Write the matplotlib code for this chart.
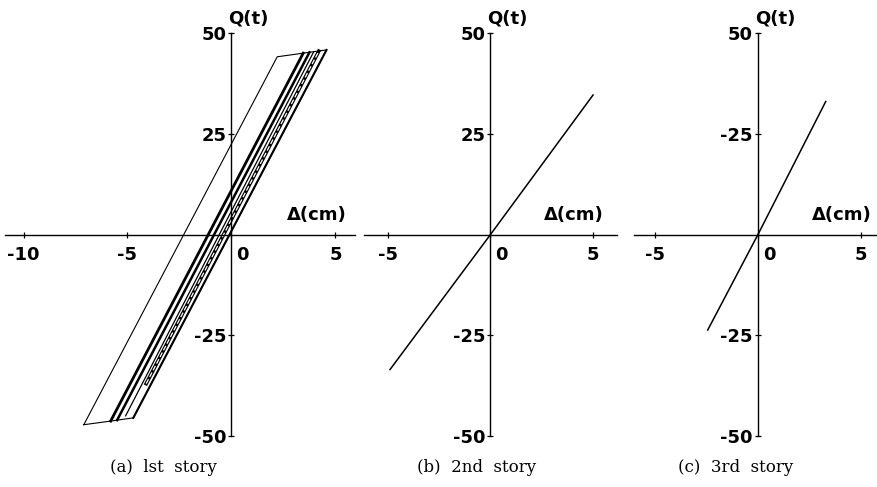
import matplotlib
matplotlib.use("Agg")
import matplotlib.pyplot as plt

plt.rcParams['font.family'] = ['DejaVu Sans']

# ------------------------------------
# data (delta in cm, Q in t)
# ------------------------------------
# 1st story hysteresis
outer_d = [-7.1, 2.2, 4.57, -4.72, -5.81, -7.1]
outer_q = [-47.2, 44.1, 45.8, -45.5, -46.3, -47.2]
right_d = [4.57, -4.72]
right_q = [45.8, -45.5]
thick1_d = [-5.81, 3.45]
thick1_q = [-46.3, 45.0]
thick2_d = [-5.5, 3.75]
thick2_q = [-46.07, 45.2]
thin_d = [-5.09, 3.95]
thin_q = [-45.0, 45.3]
inner_d = [-4.1, 4.2]
inner_q = [-37.0, 45.5]

# 2nd story
story2_d = [-4.9, 0.0, 5.0]
story2_q = [-33.5, 0.0, 34.6]

# 3rd story
story3_d = [-2.44, 0.0, 3.29]
story3_q = [-23.7, 0.0, 33.0]

xticks_a = [-10, -5, 0, 5]
xlabels_a = ["-10", "-5", "0", "5"]
xticks_bc = [-5, 0, 5]
xlabels_bc = ["-5", "0", "5"]
yticks = [50, 25, -25, -50]
ylabels_ab = ["50", "25", "-25", "-50"]
ylabels_c = ["50", "-25", "-25", "-50"]

captions = ["(a)  lst  story", "(b)  2nd  story", "(c)  3rd  story"]

W, H = 878, 487
fig = plt.figure(figsize=(W / 100, H / 100), dpi=100)


def make_axes(left, right, xlim, xticks, xlabels, ylabels):
    ax = fig.add_axes([left / W, 51 / H, (right - left) / W, 403 / H])
    ax.patch.set_visible(False)
    ax.set_xlim(xlim)
    ax.set_ylim(-50, 50)
    for s in ['top', 'right']:
        ax.spines[s].set_visible(False)
    ax.spines['left'].set_position(('data', 0))
    ax.spines['bottom'].set_position(('data', 0))
    ax.spines['left'].set_linewidth(1.0)
    ax.spines['bottom'].set_linewidth(1.0)
    ax.set_xticks(xticks)
    ax.set_yticks(yticks)
    ax.tick_params(direction='inout', length=5, width=0.9,
                   labelbottom=False, labelleft=False)
    for v, lab in zip(yticks, ylabels):
        ax.annotate(lab, (0, v), xytext=(-5, -2), textcoords='offset pixels',
                    ha='right', va='center', fontsize=13, fontweight='bold',
                    annotation_clip=False)
    for v, lab in zip(xticks, xlabels):
        dx = 11 if v == 0 else 0
        ax.annotate(lab, (v, 0), xytext=(dx, -11), textcoords='offset pixels',
                    ha='center', va='top', fontsize=13, fontweight='bold',
                    annotation_clip=False)
    ax.annotate("Q(t)", (0, 50), xytext=(17, 15), textcoords='offset pixels',
                ha='center', va='center', fontsize=13, fontweight='bold',
                annotation_clip=False)
    ax.annotate("Δ(cm)", (5, 0), xytext=(-19, 19), textcoords='offset pixels',
                ha='center', va='center', fontsize=13, fontweight='bold',
                annotation_clip=False)
    return ax


ax1 = make_axes(5, 355, (-10.89, 5.94), xticks_a, xlabels_a, ylabels_ab)
ax2 = make_axes(364, 617, (-6.17, 6.17), xticks_bc, xlabels_bc, ylabels_ab)
ax3 = make_axes(634, 877, (-6.02, 5.78), xticks_bc, xlabels_bc, ylabels_c)

# 1st story loops
ax1.plot(outer_d, outer_q, color='black', lw=0.8)
ax1.plot(right_d, right_q, color='black', lw=1.5)
ax1.plot(thick1_d, thick1_q, color='black', lw=2.0)
ax1.plot(thick2_d, thick2_q, color='black', lw=1.8)
ax1.plot(thin_d, thin_q, color='black', lw=0.9)
ax1.plot(inner_d, inner_q, color='black', lw=2.6)
ax1.plot(inner_d, inner_q, color='white', lw=0.9, dashes=(4, 2))

ax2.plot(story2_d, story2_q, color='black', lw=1.1)
ax3.plot(story3_d, story3_q, color='black', lw=1.1)

for cx, text in zip([163, 477, 736], captions):
    fig.text(cx / W, 1 - 468 / H, text, ha='center', va='center',
             fontsize=12, family='DejaVu Serif')

fig.savefig("out.png", dpi=100)
